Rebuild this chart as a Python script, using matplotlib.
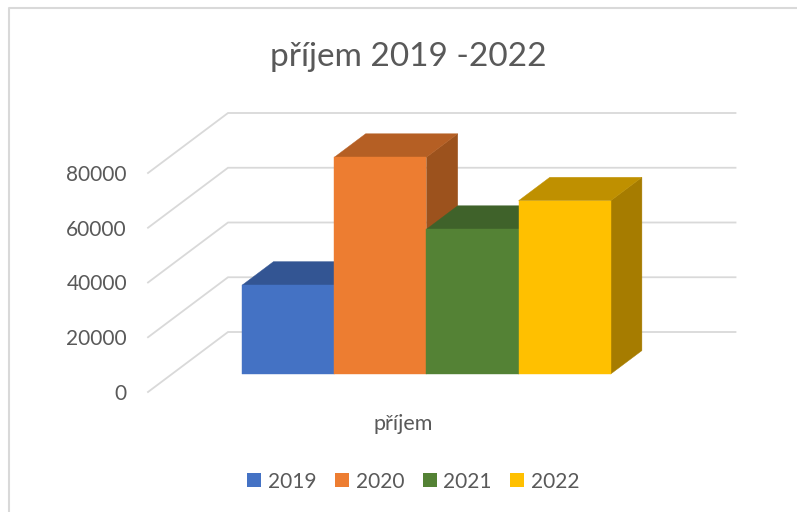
"""3D-style clustered column chart: prijem 2019-2022"""

import matplotlib
matplotlib.use("Agg")
import matplotlib.pyplot as plt
from matplotlib.patches import Patch, Polygon

plt.rcParams["font.family"] = ["Lato", "DejaVu Sans"]

years = ["2019", "2020", "2021", "2022"]
values = [32500, 79200, 52900, 63300]
colors = ["#4472C4", "#ED7D31", "#548235", "#FFC000"]
top_colors = ["#335593", "#B55F24", "#3F622A", "#BF9000"]
side_colors = ["#2C4A80", "#9C521D", "#365423", "#A67C00"]
grid_values = [0, 20000, 40000, 60000, 80000]

TEXT = "#595959"
GRID = "#D9D9D9"

# wall depth in px, value scale in px per unit
PX_PER_UNIT = 54.75 / 20000
DEPTH_X, DEPTH_Y = 80, 60 / PX_PER_UNIT
BAR_W = 92.1


def project(x, v, d):
    return x + d * DEPTH_X, v + d * DEPTH_Y


fig = plt.figure(figsize=(7.97, 5.12), dpi=100)
ax = fig.add_axes([0, 0, 1, 1])
ax.set_xlim(0, 797)
ax.set_ylim(-120 / PX_PER_UNIT, 392 / PX_PER_UNIT)
ax.axis("off")

# chart frame, only top and left are in view
ax.plot([9.5, 9.5, 797], [-120 / PX_PER_UNIT, 384 / PX_PER_UNIT, 384 / PX_PER_UNIT],
        color=GRID, lw=1.5, zorder=1)

# side wall + back wall gridlines
for v in grid_values:
    x0, y0 = project(148, v, 0)
    x1, y1 = project(148, v, 1)
    ax.plot([x0, x1, 735.5], [y0, y1, y1], color=GRID, lw=1.3, zorder=1,
            solid_joinstyle="miter")
    ax.text(127, v - 2 / PX_PER_UNIT, f"{v}", ha="right", va="center",
            fontsize=15, color=TEXT)

# bars: sides, then tops, then fronts so the overlaps come out right
d0, d1 = 0.3, 0.69
start = 242.3 - d0 * DEPTH_X
for i, v in enumerate(values):
    xl = start + i * BAR_W
    xr = xl + BAR_W
    front = [project(xl, 0, d0), project(xr, 0, d0), project(xr, v, d0), project(xl, v, d0)]
    top = [project(xl, v, d0), project(xr, v, d0), project(xr, v, d1), project(xl, v, d1)]
    side = [project(xr, 0, d0), project(xr, 0, d1), project(xr, v, d1), project(xr, v, d0)]
    ax.add_patch(Polygon(side, closed=True, fc=side_colors[i], ec=side_colors[i], lw=0.3, zorder=3))
    ax.add_patch(Polygon(top, closed=True, fc=top_colors[i], ec=top_colors[i], lw=0.3, zorder=4))
    ax.add_patch(Polygon(front, closed=True, fc=colors[i], ec=colors[i], lw=0.3, zorder=5))

ax.text(408, (392 - 56.5) / PX_PER_UNIT, "příjem 2019 -2022", ha="center", va="center",
        fontsize=24, color=TEXT)
ax.text(403, (392 - 424) / PX_PER_UNIT, "příjem", ha="center", va="center",
        fontsize=15.5, color=TEXT)

handles = [Patch(fc=c, ec="none", label=y) for c, y in zip(colors, years)]
ax.legend(handles=handles, ncol=4, frameon=False, loc="center",
          bbox_to_anchor=(413.5 / 797, 1 - 481.5 / 512), fontsize=15, labelcolor=TEXT,
          handlelength=0.67, handleheight=0.67, handletextpad=0.33, columnspacing=0.88,
          borderpad=0, borderaxespad=0)

fig.savefig("out.png", dpi=100)
